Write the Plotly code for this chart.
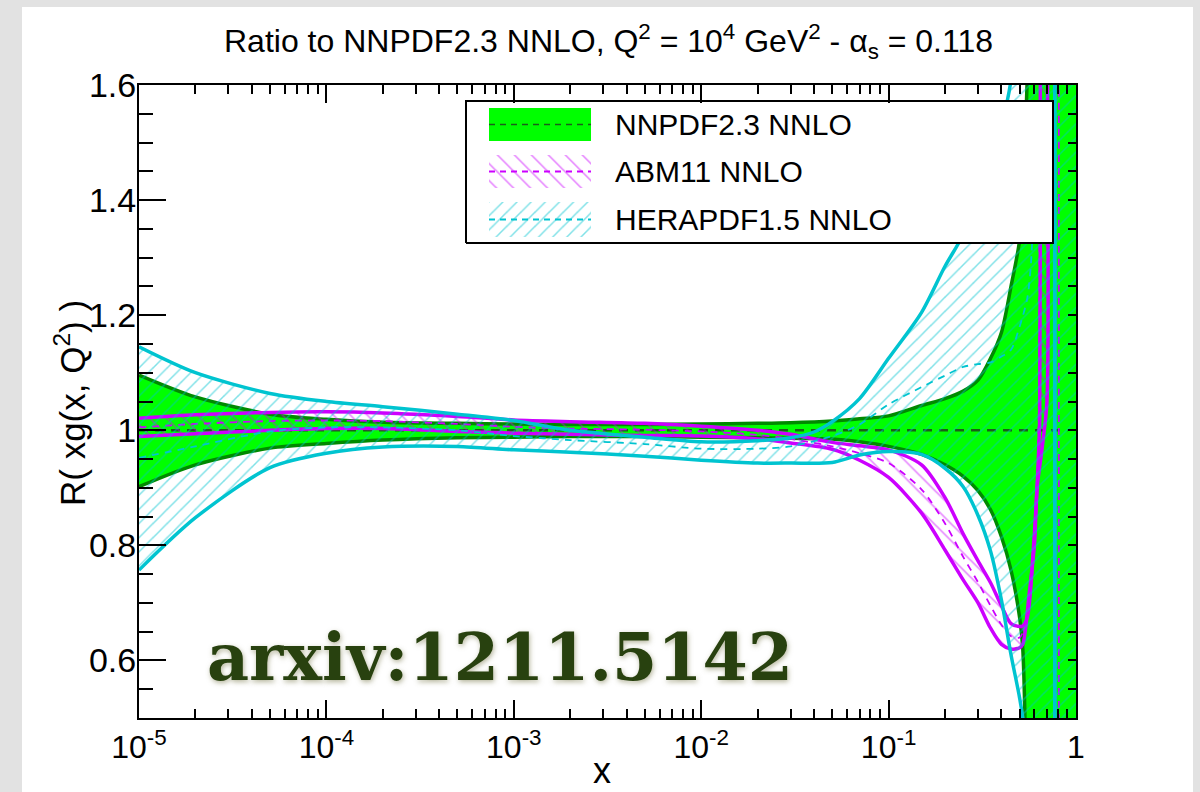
import plotly.graph_objects as go

# ---------------- data ----------------
x_nnpdf = [1e-5, 2e-5, 5e-5, 1e-4, 2e-4, 5e-4, 1e-3, 2e-3, 5e-3, 1e-2, 2e-2, 3e-2, 5e-2, 7e-2,
           0.1, 0.15, 0.2, 0.25, 0.3, 0.35, 0.4, 0.45, 0.5, 0.52, 0.55, 0.6, 0.7, 0.8, 0.9]
nnpdf_up = [1.096, 1.058, 1.028, 1.019, 1.014, 1.012, 1.011, 1.010, 1.010, 1.011, 1.012, 1.013, 1.016, 1.020,
            1.025, 1.043, 1.055, 1.068, 1.087, 1.125, 1.17, 1.25, 1.33, 1.42, 1.62, 2.5, 2.5, 2.5, 2.5]
nnpdf_lo = [0.902, 0.940, 0.969, 0.977, 0.983, 0.987, 0.988, 0.989, 0.989, 0.988, 0.987, 0.986, 0.985, 0.980,
            0.972, 0.958, 0.940, 0.920, 0.895, 0.862, 0.815, 0.757, 0.675, 0.62, 0.30, -0.5, -0.5, -0.5, -0.5]
x_nnpdf_c = [1e-5, 0.9]
nnpdf_c = [1.0, 1.0]

x_abm_up = [1e-5, 2e-5, 5e-5, 1e-4, 2e-4, 5e-4, 1e-3, 2e-3, 5e-3, 1e-2, 2e-2, 3e-2, 5e-2, 7e-2,
            0.1, 0.15, 0.2, 0.25, 0.3, 0.35, 0.4, 0.45, 0.5, 0.52, 0.55, 0.59, 0.62, 0.64, 0.645, 0.65]
abm_up = [1.021, 1.027, 1.031, 1.032, 1.030, 1.024, 1.018, 1.015, 1.012, 1.007, 1.000, 0.993, 0.979, 0.973,
          0.966, 0.940, 0.883, 0.820, 0.773, 0.735, 0.695, 0.664, 0.659, 0.660, 0.675, 0.787, 0.902, 1.02, 1.6, 2.2]
x_abm_lo = [1e-5, 2e-5, 5e-5, 1e-4, 2e-4, 5e-4, 1e-3, 2e-3, 5e-3, 1e-2, 2e-2, 3e-2, 5e-2, 7e-2,
            0.1, 0.15, 0.2, 0.25, 0.3, 0.35, 0.4, 0.45, 0.5, 0.52, 0.54, 0.56, 0.6, 0.62, 0.66, 0.70, 0.705, 0.71]
abm_lo = [0.989, 0.994, 1.000, 1.003, 1.003, 0.998, 0.995, 0.993, 0.991, 0.990, 0.985, 0.978, 0.967, 0.948,
          0.918, 0.856, 0.792, 0.740, 0.700, 0.656, 0.628, 0.620, 0.622, 0.628, 0.66, 0.71, 0.80, 0.90, 0.97,
          1.05, 1.6, 2.2]
x_abm_c = [1e-5, 2e-5, 5e-5, 1e-4, 2e-4, 5e-4, 1e-3, 2e-3, 5e-3, 1e-2, 2e-2, 3e-2, 5e-2, 7e-2,
           0.1, 0.15, 0.2, 0.25, 0.3, 0.35, 0.4, 0.45, 0.5, 0.55, 0.6, 0.63, 0.65, 0.8,
           0.81, 0.81, 0.81, 0.81, 0.9]
abm_c = [1.005, 1.011, 1.016, 1.017, 1.016, 1.011, 1.006, 1.003, 1.001, 0.998, 0.992, 0.985, 0.972, 0.960,
         0.943, 0.897, 0.838, 0.780, 0.736, 0.695, 0.662, 0.642, 0.640, 0.676, 0.80, 1.0, 1.7, 2.5,
         2.5, 2.0, 0.0, -1.0, -1.0]

x_hera_up = [1e-5, 2e-5, 5e-5, 1e-4, 2e-4, 5e-4, 1e-3, 2e-3, 5e-3, 1e-2, 2e-2, 3e-2, 4e-2, 5e-2, 7e-2,
             0.1, 0.15, 0.2, 0.25, 0.3, 0.35, 0.4, 0.45, 0.5, 0.77, 0.77, 0.77, 0.77, 0.9]
hera_up = [1.145, 1.100, 1.064, 1.050, 1.041, 1.028, 1.017, 1.000, 0.988, 0.980, 0.982, 0.987, 0.997, 1.015, 1.055,
           1.125, 1.205, 1.285, 1.34, 1.41, 1.46, 1.53, 1.61, 2.2, 2.5, 2.0, 0.0, -1.5, -1.5]
x_hera_lo = [1e-5, 2e-5, 5e-5, 1e-4, 2e-4, 5e-4, 1e-3, 2e-3, 5e-3, 1e-2, 2e-2, 3e-2, 5e-2, 7e-2,
             0.1, 0.15, 0.2, 0.25, 0.3, 0.35, 0.4, 0.45, 0.5, 0.53, 0.6, 0.77, 0.77, 0.77, 0.77, 0.9]
hera_lo = [0.757, 0.848, 0.935, 0.960, 0.971, 0.972, 0.966, 0.962, 0.955, 0.948, 0.943, 0.943, 0.944, 0.957,
           0.963, 0.958, 0.934, 0.902, 0.852, 0.790, 0.705, 0.610, 0.535, 0.48, 0.2, -1.5, 0.0, 2.0, 2.5, 2.5]
x_hera_c = [1e-5, 2e-5, 5e-5, 1e-4, 2e-4, 5e-4, 1e-3, 2e-3, 5e-3, 1e-2, 2e-2, 3e-2, 5e-2, 7e-2,
            0.1, 0.15, 0.2, 0.25, 0.3, 0.35, 0.4, 0.45, 0.5, 0.55, 0.58, 0.6, 0.62]
hera_c = [0.952, 0.972, 0.998, 1.005, 1.005, 1.000, 0.990, 0.983, 0.976, 0.968, 0.968, 0.972, 0.990, 1.010,
          1.045, 1.075, 1.095, 1.110, 1.115, 1.118, 1.128, 1.140, 1.180, 1.230, 1.310, 1.6, 2.5]

x_tickvals = [1e-5, 1e-4, 1e-3, 1e-2, 1e-1, 1]
x_ticktext = ["10<sup>-5</sup>", "10<sup>-4</sup>", "10<sup>-3</sup>", "10<sup>-2</sup>", "10<sup>-1</sup>", "1"]
y_tickvals = [0.6, 0.8, 1.0, 1.2, 1.4, 1.6]
y_ticktext = ["0.6", "0.8", "1", "1.2", "1.4", "1.6"]
legend_labels = ["NNPDF2.3 NNLO", "ABM11 NNLO", "HERAPDF1.5 NNLO"]

# ---------------- styling ----------------
GREEN = "#00ff00"
DGREEN = "#008a00"
MAG = "#cc00ff"
CYAN = "#00c4d0"
FONT = "Liberation Sans, Arial, Helvetica, sans-serif"
W, H = 1200, 792
L, R, T, B = 139, 1076, 85, 718   # plot area in pixels
SM = 0.8


def xp(px):
    return (px - L) / (R - L)


def yp(py):
    return (B - py) / (B - T)


def band(xu, yu, xl, yl):
    return list(xu) + list(xl)[::-1], list(yu) + list(yl)[::-1]


fig = go.Figure()
NOHOV = dict(hoverinfo="skip", showlegend=False)
NOLINE = dict(width=0, shape="spline", smoothing=SM)

# NNPDF band
bx, by = band(x_nnpdf, nnpdf_up, x_nnpdf, nnpdf_lo)
fig.add_trace(go.Scatter(x=bx, y=by, fill="toself", fillcolor=GREEN, mode="lines", line=NOLINE, **NOHOV))
for yy in (nnpdf_up, nnpdf_lo):
    fig.add_trace(go.Scatter(x=x_nnpdf, y=yy, mode="lines",
                             line=dict(color=DGREEN, width=3.5, shape="spline", smoothing=SM), **NOHOV))
fig.add_trace(go.Scatter(x=x_nnpdf_c, y=nnpdf_c, mode="lines",
                         line=dict(color="#1a5e1a", width=2.5, dash="9px,7px"), **NOHOV))

# ABM band
bx, by = band(x_abm_up, abm_up, x_abm_lo, abm_lo)
fig.add_trace(go.Scatter(x=bx, y=by, fill="toself", fillcolor="rgba(0,0,0,0)", mode="lines", line=NOLINE,
                         fillpattern=dict(shape="\\", fgcolor=MAG, bgcolor="rgba(0,0,0,0)", size=12, solidity=0.13),
                         **NOHOV))
for xx, yy in ((x_abm_up, abm_up), (x_abm_lo, abm_lo)):
    fig.add_trace(go.Scatter(x=xx, y=yy, mode="lines",
                             line=dict(color=MAG, width=3.5, shape="spline", smoothing=SM), **NOHOV))
fig.add_trace(go.Scatter(x=x_abm_c, y=abm_c, mode="lines",
                         line=dict(color=MAG, width=1.8, dash="7px,6px", shape="spline", smoothing=SM), **NOHOV))

# HERAPDF band
bx, by = band(x_hera_up, hera_up, x_hera_lo, hera_lo)
fig.add_trace(go.Scatter(x=bx, y=by, fill="toself", fillcolor="rgba(0,0,0,0)", mode="lines", line=NOLINE,
                         fillpattern=dict(shape="/", fgcolor=CYAN, bgcolor="rgba(0,0,0,0)", size=10, solidity=0.15),
                         **NOHOV))
for xx, yy in ((x_hera_up, hera_up), (x_hera_lo, hera_lo)):
    fig.add_trace(go.Scatter(x=xx, y=yy, mode="lines",
                             line=dict(color=CYAN, width=3.5, shape="spline", smoothing=SM), **NOHOV))
fig.add_trace(go.Scatter(x=x_hera_c, y=hera_c, mode="lines",
                         line=dict(color=CYAN, width=1.8, dash="7px,6px", shape="spline", smoothing=SM), **NOHOV))

# invisible trace for the right-hand tick axis
fig.add_trace(go.Scatter(x=[1e-3], y=[1.0], yaxis="y3", mode="markers", marker=dict(opacity=0), **NOHOV))

# ---------------- legend box (overlay axes in plot-fraction units) ----------------
lx0, lx1, ly0, ly1 = xp(466), xp(1053), yp(243), yp(101)
fig.add_trace(go.Scatter(x=[lx0, lx1, lx1, lx0, lx0], y=[ly0, ly0, ly1, ly1, ly0], xaxis="x2", yaxis="y2",
                         fill="toself", fillcolor="white", mode="lines", line=dict(color="black", width=2), **NOHOV))
sx0, sx1 = xp(489), xp(591)
rows = [(108, 141), (155, 188), (202, 237)]
sym_fill = [dict(fillcolor=GREEN),
            dict(fillcolor="rgba(0,0,0,0)",
                 fillpattern=dict(shape="\\", fgcolor=MAG, bgcolor="rgba(0,0,0,0)", size=12, solidity=0.13)),
            dict(fillcolor="rgba(0,0,0,0)",
                 fillpattern=dict(shape="/", fgcolor=CYAN, bgcolor="rgba(0,0,0,0)", size=10, solidity=0.15))]
sym_line = [dict(color="#1a5e1a", width=1.5, dash="6px,5px"),
            dict(color=MAG, width=2, dash="6px,5px"),
            dict(color=CYAN, width=2, dash="6px,5px")]
for (t, b), f, ln, lab in zip(rows, sym_fill, sym_line, legend_labels):
    y0, y1 = yp(b), yp(t)
    fig.add_trace(go.Scatter(x=[sx0, sx1, sx1, sx0, sx0], y=[y0, y0, y1, y1, y0], xaxis="x2", yaxis="y2",
                             fill="toself", mode="none", **f, **NOHOV))
    ym = yp((t + b) / 2)
    fig.add_trace(go.Scatter(x=[sx0, sx1], y=[ym, ym], xaxis="x2", yaxis="y2", mode="lines", line=ln, **NOHOV))
    fig.add_annotation(x=xp(613), y=ym, xref="paper", yref="paper", text=lab, showarrow=False,
                       xanchor="left", yanchor="middle", font=dict(family=FONT, size=30, color="black"))

# ---------------- axes ----------------
x_minor = [k * 10.0 ** e for e in range(-5, 0) for k in range(2, 10)]
fig.update_layout(
    width=W, height=H,
    margin=dict(l=L, r=W - R, t=T, b=H - B, pad=0),
    paper_bgcolor="#e2e2e2", plot_bgcolor="white",
    showlegend=False,
    xaxis=dict(type="log", range=[-5, 0], tickmode="array", tickvals=x_tickvals, ticktext=x_ticktext,
               ticks="inside", ticklen=18, tickwidth=1.5, tickcolor="black",
               minor=dict(ticks="inside", ticklen=9, tickwidth=1.5, tickcolor="black", tickmode="array",
                          tickvals=x_minor),
               showline=True, linewidth=2, linecolor="black", mirror="ticks", showgrid=False, zeroline=False,
               tickfont=dict(family=FONT, size=32, color="black")),
    yaxis=dict(range=[0.5, 1.6], tickmode="array", tickvals=y_tickvals, ticktext=y_ticktext,
               ticks="inside", ticklen=27, tickwidth=1.5, tickcolor="black", ticklabelstandoff=-6,
               minor=dict(ticks="inside", ticklen=14, tickwidth=1.5, tickcolor="black", dtick=0.05, tick0=0.5),
               showline=True, linewidth=2, linecolor="black", mirror=True, showgrid=False, zeroline=False,
               tickfont=dict(family=FONT, size=34, color="black")),
    yaxis3=dict(overlaying="y", side="right", anchor="x", range=[0.5, 1.6], ticks="inside", ticklen=8,
                tickwidth=1.5, tickcolor="black", dtick=0.05, tick0=0.5, showticklabels=False,
                showgrid=False, zeroline=False, showline=False),
    xaxis2=dict(overlaying="x", range=[0, 1], visible=False, fixedrange=True),
    yaxis2=dict(overlaying="y", anchor="x2", range=[0, 1], visible=False, fixedrange=True),
)

# white page panel inside the grey frame
fig.add_shape(type="rect", xref="paper", yref="paper", x0=xp(22), x1=xp(1193), y0=yp(H + 5), y1=yp(7),
              fillcolor="white", line=dict(width=0), layer="below")

# titles
fig.add_annotation(x=xp(608), y=yp(42), xref="paper", yref="paper", showarrow=False, xanchor="center",
                   yanchor="middle",
                   text="Ratio to NNPDF2.3 NNLO, Q<sup>2</sup> = 10<sup>4</sup> GeV<sup>2</sup> - α<sub>s</sub> = 0.118",
                   font=dict(family=FONT, size=32, color="black"))
fig.add_annotation(x=xp(70), y=yp(403), xref="paper", yref="paper", showarrow=False, textangle=-90,
                   xanchor="center", yanchor="middle", text="R( xg(x, Q<sup>2</sup>) )",
                   font=dict(family=FONT, size=35, color="black"))
fig.add_annotation(x=xp(602), y=yp(770), xref="paper", yref="paper", showarrow=False,
                   xanchor="center", yanchor="middle", text="x", font=dict(family=FONT, size=36, color="black"))
fig.add_annotation(x=xp(500), y=yp(657), xref="paper", yref="paper", showarrow=False,
                   xanchor="center", yanchor="middle", text="arxiv:1211.5142",
                   font=dict(family="DejaVu Serif", size=65, color="#28410f", weight="bold",
                             shadow="1px 2px 5px rgba(110,110,60,0.5)"))

fig.write_html("out.html", config={"displayModeBar": False},
               post_script="document.body.style.margin='0px';")
